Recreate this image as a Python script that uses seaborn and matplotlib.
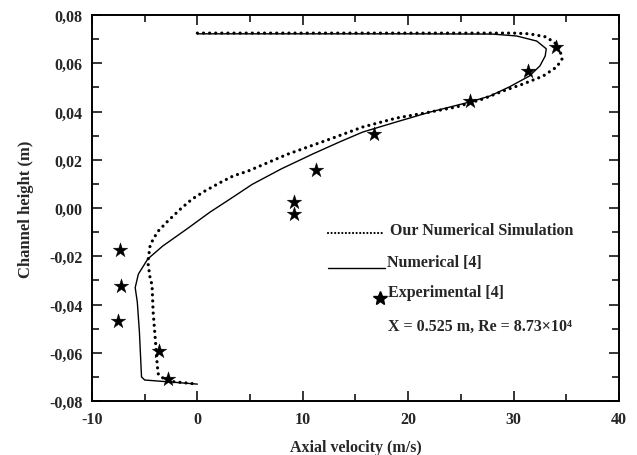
import matplotlib
matplotlib.use("Agg")
import matplotlib.pyplot as plt
from matplotlib.ticker import MultipleLocator, FixedLocator, FixedFormatter
import seaborn as sns
import pandas as pd

# Axial velocity profile across the channel height at X = 0.525 m
our_velocity = [0, 10, 20, 30, 31.5, 33.1, 34.3, 34.6, 34.1, 32.8, 30.9, 29.0, 27.1,
                24.6, 22.1, 18.9, 15.7, 12.6, 8.5, 4.8, 3.4, 2.1, 0.7, -0.5, -1.6,
                -2.8, -3.7, -4.2, -4.5, -4.7, -4.5, -4.3, -4.2, -4.0, -3.8, -3.7,
                -2.9, 0]
our_height = [0.0725, 0.0725, 0.0725, 0.0725, 0.0722, 0.0709, 0.0672, 0.0618, 0.0585,
              0.0547, 0.0514, 0.0485, 0.0452, 0.0419, 0.0398, 0.0373, 0.0336, 0.0286,
              0.0222, 0.0153, 0.0133, 0.0104, 0.0070, 0.0037, -0.0004, -0.0054,
              -0.0095, -0.0129, -0.0160, -0.0224, -0.0286, -0.0320, -0.0430, -0.0540,
              -0.0655, -0.0690, -0.0717, -0.0730]

ref_velocity = [0, 10, 20, 28, 30.3, 32.2, 33.1, 33.0, 32.5, 31.5, 29.6, 27.8, 25.9,
                22.1, 18.9, 15.7, 13.5, 11.0, 8.0, 5.2, 3.2, 1.2, -1.0, -3.3, -4.7,
                -5.6, -5.9, -5.7, -5.5, -5.3, -5.0, -2.9, 0]
ref_height = [0.0722, 0.0722, 0.0722, 0.0721, 0.0713, 0.0692, 0.0660, 0.0630, 0.0589,
              0.0547, 0.0502, 0.0465, 0.0440, 0.0398, 0.0357, 0.0315, 0.0274, 0.0225,
              0.0163, 0.0098, 0.0040, -0.0017, -0.0087, -0.0158, -0.0211, -0.0274,
              -0.0330, -0.0390, -0.0514, -0.0700, -0.0713, -0.0720, -0.0730]

exp_velocity = [34.0, 31.4, 25.9, 16.8, 11.3, 9.2, 9.2, -7.3, -7.2, -7.5, -3.6, -2.8]
exp_height = [0.0667, 0.0568, 0.0445, 0.0307, 0.0157, 0.0025, -0.0025, -0.0174,
              -0.0323, -0.0469, -0.0593, -0.0709]

x_ticks = [-10, 0, 10, 20, 30, 40]
x_tick_labels = ["-10", "0", "10", "20", "30", "40"]
y_ticks = [-0.08, -0.06, -0.04, -0.02, 0.00, 0.02, 0.04, 0.06, 0.08]
y_tick_labels = ["-0,08", "-0,06", "-0,04", "-0,02", "0,00", "0,02", "0,04", "0,06", "0,08"]

legend_labels = ["Our Numerical Simulation", "Numerical [4]", "Experimental [4]"]
case_label = "X = 0.525 m, Re = 8.73\u00d710\u2074"

sns.set_style("ticks")
plt.rcParams["font.family"] = ["Liberation Serif", "DejaVu Serif"]
plt.rcParams["font.weight"] = "bold"

fig = plt.figure(figsize=(6.37, 4.56), dpi=100)
ax = fig.add_axes([0.1444, 0.1184, 0.8273, 0.8465])

ours = pd.DataFrame({"u": our_velocity, "h": our_height})
ref = pd.DataFrame({"u": ref_velocity, "h": ref_height})
exp = pd.DataFrame({"u": exp_velocity, "h": exp_height})

sns.lineplot(data=ref, x="u", y="h", sort=False, estimator=None, ax=ax,
             color="black", linewidth=1.0)
sns.lineplot(data=ours, x="u", y="h", sort=False, estimator=None, ax=ax,
             color="black", linewidth=2.3, linestyle=(0, (0.01, 1.9)),
             dash_capstyle="round")
sns.scatterplot(data=exp, x="u", y="h", ax=ax, marker="*", s=120,
                color="black", edgecolor="black", linewidth=0.3, zorder=5)

ax.set_xlim(-10, 40)
ax.set_ylim(-0.08, 0.08)
ax.xaxis.set_major_locator(FixedLocator(x_ticks))
ax.xaxis.set_major_formatter(FixedFormatter(x_tick_labels))
ax.xaxis.set_minor_locator(MultipleLocator(5))
ax.yaxis.set_major_locator(FixedLocator(y_ticks))
ax.yaxis.set_major_formatter(FixedFormatter(y_tick_labels))
ax.yaxis.set_minor_locator(MultipleLocator(0.01))

ax.tick_params(which="both", direction="in", top=True, right=True,
               labeltop=False, labelright=False, color="black", width=1.1)
ax.tick_params(which="major", length=7, pad=7, labelsize=11.5)
ax.tick_params(which="minor", length=5)
for lab in ax.get_xticklabels() + ax.get_yticklabels():
    lab.set_fontweight("bold")

for sp in ax.spines.values():
    sp.set_visible(True)
    sp.set_color("black")
    sp.set_linewidth(1.4)

ax.set_xlabel("Axial velocity (m/s)", fontsize=11.5, fontweight="bold", labelpad=9)
ax.set_ylabel("Channel height (m)", fontsize=12, fontweight="bold", labelpad=11)

# hand-placed key inside the axes
tr = ax.transAxes
ax.plot([0.448, 0.556], [0.435, 0.435], transform=tr, color="black",
        linewidth=1.6, linestyle=(0, (0.01, 1.6)), dash_capstyle="round")
ax.text(0.565, 0.433, legend_labels[0], transform=tr, fontsize=11.5,
        fontweight="bold", va="baseline", ha="left")
ax.plot([0.448, 0.556], [0.345, 0.345], transform=tr, color="black", linewidth=1.0)
ax.text(0.560, 0.350, legend_labels[1], transform=tr, fontsize=11.5,
        fontweight="bold", va="baseline", ha="left")
ax.plot([0.547], [0.267], transform=tr, marker="*", markersize=10,
        color="black", linestyle="none")
ax.text(0.562, 0.272, legend_labels[2], transform=tr, fontsize=11.5,
        fontweight="bold", va="baseline", ha="left")
ax.text(0.562, 0.184, case_label, transform=tr, fontsize=11.5,
        fontweight="bold", va="baseline", ha="left")

fig.savefig("out.png", dpi=100, facecolor="white")
